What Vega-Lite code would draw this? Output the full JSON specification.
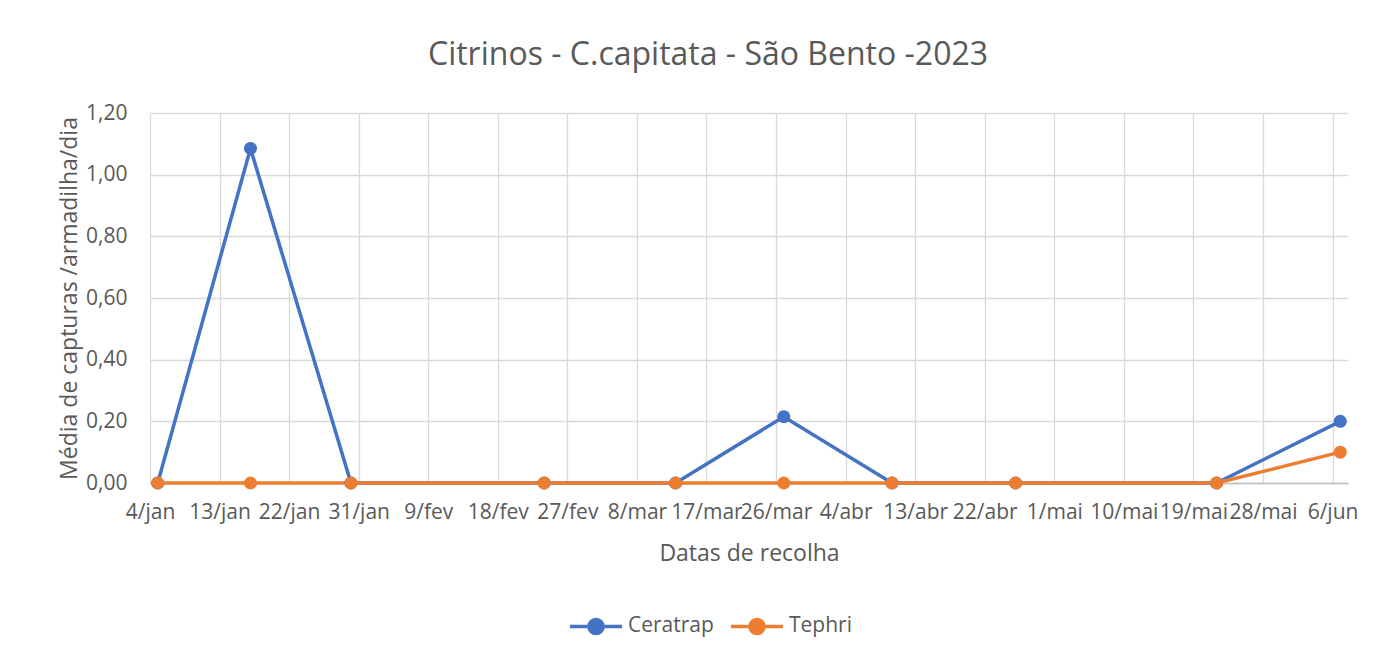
{
  "$schema": "https://vega.github.io/schema/vega-lite/v6.json",
  "autosize": {"type": "none"},
  "width": 1198,
  "height": 370,
  "padding": {"left": 150, "top": 113, "right": 47, "bottom": 172},
  "background": "white",
  "title": {
    "text": "Citrinos - C.capitata - São Bento -2023",
    "font": "Open Sans",
    "fontSize": 32,
    "fontWeight": "normal",
    "color": "#595959",
    "anchor": "middle",
    "baseline": "alphabetic",
    "dx": -41,
    "offset": 5
  },
  "config": {
    "view": {"stroke": null},
    "axis": {
      "labelFont": "Open Sans",
      "titleFont": "Open Sans",
      "labelColor": "#595959",
      "titleColor": "#595959",
      "labelFontSize": 21,
      "titleFontSize": 23,
      "titleFontWeight": "normal",
      "gridColor": "#D9D9D9",
      "gridWidth": 1.3,
      "ticks": false
    }
  },
  "data": {
    "values": [
      {"date": "2023-01-05", "serie": "Ceratrap", "valor": 0},
      {"date": "2023-01-17", "serie": "Ceratrap", "valor": 1.085},
      {"date": "2023-01-30", "serie": "Ceratrap", "valor": 0},
      {"date": "2023-02-24", "serie": "Ceratrap", "valor": 0},
      {"date": "2023-03-13", "serie": "Ceratrap", "valor": 0},
      {"date": "2023-03-27", "serie": "Ceratrap", "valor": 0.215},
      {"date": "2023-04-10", "serie": "Ceratrap", "valor": 0},
      {"date": "2023-04-26", "serie": "Ceratrap", "valor": 0},
      {"date": "2023-05-22", "serie": "Ceratrap", "valor": 0},
      {"date": "2023-06-07", "serie": "Ceratrap", "valor": 0.2},
      {"date": "2023-01-05", "serie": "Tephri", "valor": 0},
      {"date": "2023-01-17", "serie": "Tephri", "valor": 0},
      {"date": "2023-01-30", "serie": "Tephri", "valor": 0},
      {"date": "2023-02-24", "serie": "Tephri", "valor": 0},
      {"date": "2023-03-13", "serie": "Tephri", "valor": 0},
      {"date": "2023-03-27", "serie": "Tephri", "valor": 0},
      {"date": "2023-04-10", "serie": "Tephri", "valor": 0},
      {"date": "2023-04-26", "serie": "Tephri", "valor": 0},
      {"date": "2023-05-22", "serie": "Tephri", "valor": 0},
      {"date": "2023-06-07", "serie": "Tephri", "valor": 0.1}
    ]
  },
  "mark": {
    "type": "line",
    "strokeWidth": 3.5,
    "point": {"filled": true, "size": 170, "opacity": 1}
  },
  "encoding": {
    "x": {
      "field": "date",
      "type": "temporal",
      "scale": {"type": "utc", "domain": [1672790400000, 1686182400000]},
      "axis": {
        "title": "Datas de recolha",
        "titlePadding": 20,
        "values": [1672790400000, 1673568000000, 1674345600000, 1675123200000, 1675900800000, 1676678400000, 1677456000000, 1678233600000, 1679011200000, 1679788800000, 1680566400000, 1681344000000, 1682121600000, 1682899200000, 1683676800000, 1684454400000, 1685232000000, 1686009600000],
        "labelExpr": "utcdate(datum.value) + '/' + ['jan','fev','mar','abr','mai','jun','jul'][utcmonth(datum.value)]",
        "labelPadding": 18,
        "labelFlush": false,
        "labelOverlap": false,
        "domainColor": "#BFBFBF",
        "domainWidth": 1.5
      }
    },
    "y": {
      "field": "valor",
      "type": "quantitative",
      "scale": {"domain": [0, 1.2], "nice": false},
      "axis": {
        "title": "Média de capturas /armadilha/dia",
        "values": [0, 0.2, 0.4, 0.6, 0.8, 1.0, 1.2],
        "labelExpr": "replace(format(datum.value, '.2f'), '.', ',')",
        "labelPadding": 23,
        "titlePadding": 4,
        "domain": false
      }
    },
    "color": {
      "field": "serie",
      "type": "nominal",
      "scale": {"domain": ["Ceratrap", "Tephri"], "range": ["#4472C4", "#ED7D31"]},
      "legend": {
        "title": null,
        "orient": "none",
        "legendX": 418,
        "legendY": 485,
        "direction": "horizontal",
        "labelFont": "Open Sans",
        "labelFontSize": 21,
        "labelColor": "#595959",
        "symbolType": "M-1,0H-0.27A0.27,0.27 0 1,1 0.27,0H1M0.27,0A0.27,0.27 0 1,1 -0.27,0",
        "symbolSize": 2704,
        "symbolStrokeWidth": 3.5,
        "labelOffset": 4,
        "columnPadding": 10,
        "encode": {
          "symbols": {"update": {"fill": {"scale": "color", "field": "value"}, "fillOpacity": {"value": 1}, "opacity": {"value": 1}}}
        }
      }
    }
  }
}
